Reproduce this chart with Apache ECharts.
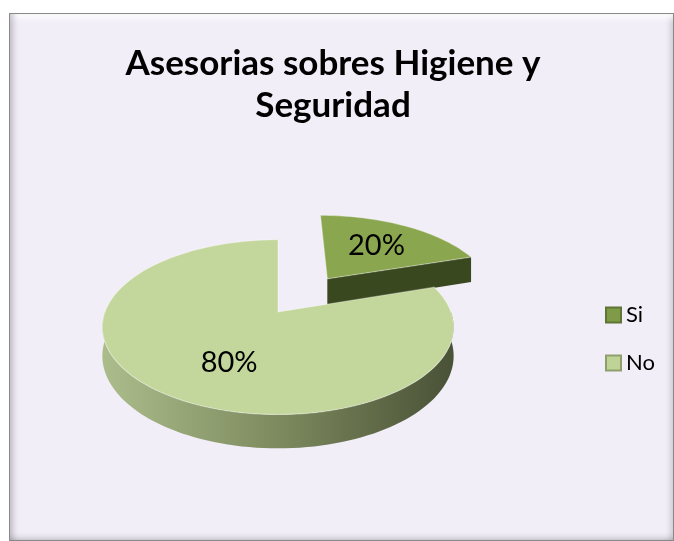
<!DOCTYPE html>
<html>
<head>
<meta charset="utf-8">
<script src="https://cdn.jsdelivr.net/npm/echarts@6/dist/echarts.min.js"></script>
<style>
html, body { margin: 0; padding: 0; background: #fff; }
#frame {
  position: absolute; left: 9px; top: 13px; width: 665px; height: 528px;
  box-sizing: border-box; border: 1px solid #8a8a8a; background: #f2eef8;
  box-shadow: inset 7px 0 6px -4px rgba(0,0,0,0.22), inset 0 8px 6px -4px rgba(255,255,255,0.95),
              inset -6px 0 6px -4px rgba(0,0,0,0.18), inset 0 -6px 6px -4px rgba(0,0,0,0.18);
}
#main { position: absolute; left: 0; top: 0; width: 674px; height: 541px; }
</style>
</head>
<body>
<div id="frame"></div>
<div id="main"></div>
<script>
// datos
var categories = ['Si', 'No'];
var values = [20, 80];

// estilo de cada porción
var topColors = ['#8aa64f', '#c3d69b'];
var legendColors = ['#7f9b47', '#c0d396'];
var explode = [90, 0];
var labelRadius = [0.6, 0.45];
var labelLift = [0, 0.6];

// geometría del pastel 3D
var CX = 278, CY = 312, R = 173, TILT = 0.49, DIST = 1000, DEPTH = 28;

var total = values.reduce(function (a, b) { return a + b; }, 0);
var startAngle = [];
var acc = 0;
values.forEach(function (v) { startAngle.push(acc / total * 360); acc += v; });

function project(X, Z, h) {
  var s = 1 / (1 - Z / DIST);
  return [CX + X * s, CY + (Z * TILT + h) * s];
}

function arcPts(ox, oz, a0, a1, h) {
  var pts = [];
  var n = Math.max(2, Math.ceil((a1 - a0) / 2));
  for (var i = 0; i <= n; i++) {
    var a = (a0 + (a1 - a0) * i / n) * Math.PI / 180;
    pts.push(project(ox + R * Math.sin(a), oz - R * Math.cos(a), h));
  }
  return pts;
}

function sideFill(i) {
  if (i === 0) return '#3a481f';
  var l = project(-R, 0, 0)[0], r = project(R, 0, 0)[0];
  return {
    type: 'linear', x: l, y: 0, x2: r, y2: 0, global: true,
    colorStops: [
      { offset: 0, color: '#abbc8b' },
      { offset: 0.5, color: '#7d8a5e' },
      { offset: 1, color: '#4a5237' }
    ]
  };
}

function radialWall(ox, oz, a) {
  var rad = a * Math.PI / 180;
  var rx = ox + R * Math.sin(rad), rz = oz - R * Math.cos(rad);
  return [project(ox, oz, 0), project(rx, rz, 0), project(rx, rz, DEPTH), project(ox, oz, DEPTH)];
}

function renderSlice(i) {
  return function (params, api) {
    var v = api.value(0);
    var a0 = startAngle[i], a1 = a0 + v / total * 360;
    var mid = (a0 + a1) / 2 * Math.PI / 180;
    var ox = explode[i] * Math.sin(mid), oz = -explode[i] * Math.cos(mid);
    var side = sideFill(i);
    var children = [];

    if (Math.sin(a0 * Math.PI / 180) < -1e-6) {
      children.push({ type: 'polygon', shape: { points: radialWall(ox, oz, a0) }, style: { fill: side } });
    }
    if (Math.sin(a1 * Math.PI / 180) > 1e-6) {
      children.push({ type: 'polygon', shape: { points: radialWall(ox, oz, a1) }, style: { fill: side } });
    }
    var lo = Math.max(a0, 90), hi = Math.min(a1, 270);
    if (hi > lo) {
      var topArc = arcPts(ox, oz, lo, hi, 0);
      var botArc = arcPts(ox, oz, lo, hi, DEPTH).reverse();
      children.push({ type: 'polygon', shape: { points: topArc.concat(botArc) }, style: { fill: side } });
    }

    var face = [project(ox, oz, 0)].concat(arcPts(ox, oz, a0, a1, 0));
    children.push({
      type: 'polygon', shape: { points: face },
      style: { fill: topColors[i], stroke: 'rgba(255,255,255,0.35)', lineWidth: 1.2 }
    });

    var lr = R * labelRadius[i];
    var lp = project(ox + lr * Math.sin(mid), oz - lr * Math.cos(mid), DEPTH * labelLift[i]);
    children.push({
      type: 'text',
      style: {
        text: Math.round(v / total * 100) + '%',
        x: lp[0], y: lp[1],
        textAlign: 'center', textVerticalAlign: 'middle',
        fontSize: 29, fontFamily: 'Lato', fill: '#000'
      }
    });
    return { type: 'group', children: children };
  };
}

var chart = echarts.init(document.getElementById('main'));
var option = {
  animation: false,
  title: {
    text: 'Asesorias sobres Higiene y\nSeguridad',
    left: 328,
    top: 38,
    textAlign: 'center',
    textStyle: { fontFamily: 'Lato', fontWeight: 'bold', fontSize: 35, lineHeight: 42, color: '#000' }
  },
  legend: {
    orient: 'vertical',
    left: 600,
    top: 299,
    itemWidth: 15,
    itemHeight: 15,
    itemGap: 26,
    icon: 'rect',
    data: categories,
    textStyle: { fontFamily: 'Lato', fontSize: 22, color: '#000' }
  },
  series: categories.map(function (name, i) {
    return {
      type: 'custom',
      name: name,
      coordinateSystem: 'none',
      itemStyle: { color: legendColors[i], borderColor: i === 0 ? '#5f7535' : '#8f9f6c', borderWidth: 1 },
      renderItem: renderSlice(i),
      data: [[values[i]]]
    };
  })
};
chart.setOption(option);
</script>
</body>
</html>
